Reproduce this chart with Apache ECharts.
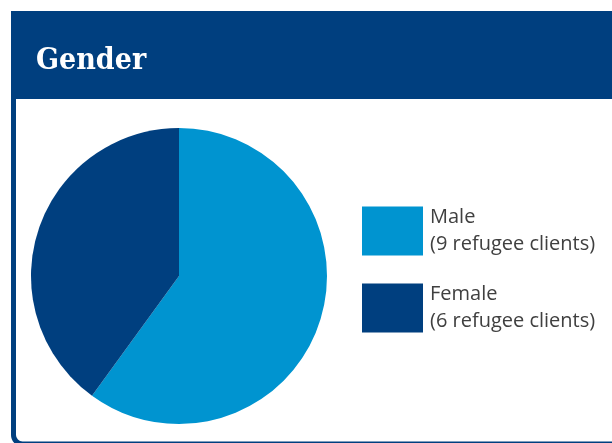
<!DOCTYPE html>
<html>
<head>
<meta charset="utf-8">
<script src="https://cdn.jsdelivr.net/npm/echarts@6/dist/echarts.min.js"></script>
<style>
  html, body { margin: 0; padding: 0; background: #ffffff; }
  #chart { width: 612px; height: 443px; }
</style>
</head>
<body>
<div id="chart"></div>
<script>
// Gender breakdown of refugee clients
const titleText = 'Gender';
const categories = ['Male', 'Female'];
const clientCounts = [9, 6];
const sliceColors = ['#0094d0', '#003f7f'];

const NAVY = '#003f7f';

const chart = echarts.init(document.getElementById('chart'), null, { renderer: 'canvas' });

const pieData = categories.map((name, i) => ({
  name: name,
  value: clientCounts[i],
  itemStyle: { color: sliceColors[i] }
}));

const countsByName = {};
categories.forEach((name, i) => { countsByName[name] = clientCounts[i]; });

chart.setOption({
  animation: false,
  backgroundColor: '#ffffff',
  graphic: [
    {
      // panel outline with rounded lower corners
      type: 'rect',
      z: 0,
      shape: { x: 13.5, y: 30, width: 660, height: 414, r: 9 },
      style: { fill: '#ffffff', stroke: NAVY, lineWidth: 5 }
    },
    {
      // header band
      type: 'rect',
      z: 1,
      shape: { x: 11, y: 11, width: 601, height: 88 },
      style: { fill: NAVY }
    },
    {
      type: 'text',
      z: 2,
      left: 36,
      top: 46,
      style: {
        text: titleText,
        fill: '#ffffff',
        font: 'bold 30px "DejaVu Serif Condensed", "DejaVu Serif", serif'
      }
    }
  ],
  legend: {
    orient: 'vertical',
    left: 362,
    top: 204,
    padding: 0,
    itemWidth: 61,
    itemHeight: 49,
    itemGap: 23,
    icon: 'rect',
    selectedMode: false,
    data: categories,
    formatter: name => name + '\n(' + countsByName[name] + ' refugee clients)',
    textStyle: {
      fontFamily: '"Open Sans", sans-serif',
      fontSize: 20,
      lineHeight: 27,
      color: '#404040',
      padding: [0, 0, 0, 2]
    }
  },
  series: [
    {
      type: 'pie',
      center: [179, 276],
      radius: 148,
      startAngle: 90,
      clockwise: true,
      label: { show: false },
      labelLine: { show: false },
      emphasis: { disabled: true },
      itemStyle: { borderWidth: 0 },
      data: pieData
    }
  ]
});
</script>
</body>
</html>
